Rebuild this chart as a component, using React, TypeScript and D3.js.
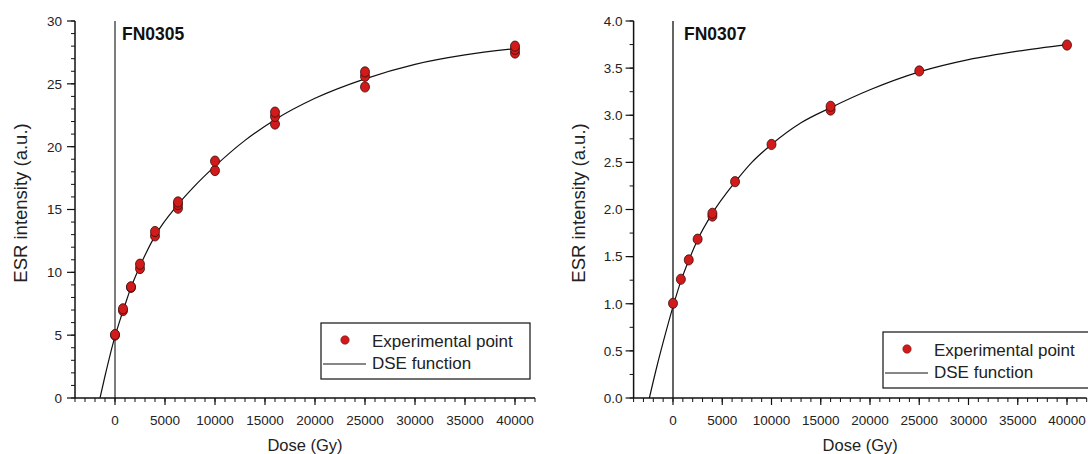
import React from "react";
import * as d3 from "d3";

// ---------- data ----------
const panelNames = ["FN0305", "FN0307"];

// FN0305 experimental points
const doses305 = [0, 0, 800, 800, 1600, 1600, 2500, 2500, 4000, 4000, 6300, 6300, 6300, 10000, 10000, 16000, 16000, 16000, 25000, 25000, 25000, 40000, 40000, 40000];
const esr305 = [5.0, 5.05, 6.95, 7.1, 8.8, 8.85, 10.3, 10.65, 12.9, 13.25, 15.1, 15.4, 15.6, 18.1, 18.85, 21.8, 22.4, 22.75, 24.75, 25.6, 25.95, 27.45, 27.75, 28.0];

// FN0305 DSE fitted curve
const curveDose305 = [-1500, -1000, -500, 0, 500, 1000, 1600, 2500, 4000, 6300, 8000, 10000, 13000, 16000, 20000, 25000, 30000, 35000, 40000];
const curveEsr305 = [0, 1.75, 3.4, 4.9, 6.2, 7.4, 8.8, 10.5, 12.9, 15.4, 16.9, 18.45, 20.5, 22.15, 23.85, 25.4, 26.55, 27.3, 27.8];

// FN0307 experimental points
const doses307 = [0, 800, 1600, 2500, 4000, 4000, 6300, 10000, 16000, 16000, 25000, 40000];
const esr307 = [1.005, 1.26, 1.465, 1.685, 1.93, 1.96, 2.295, 2.69, 3.055, 3.095, 3.47, 3.745];

// FN0307 DSE fitted curve
const curveDose307 = [-2400, -1600, -800, 0, 800, 1600, 2500, 4000, 6300, 8000, 10000, 13000, 16000, 20000, 25000, 30000, 35000, 40000];
const curveEsr307 = [0, 0.35, 0.67, 0.97, 1.24, 1.46, 1.68, 1.96, 2.29, 2.5, 2.69, 2.92, 3.08, 3.27, 3.46, 3.59, 3.68, 3.75];

// axis ticks
const xTickLabels = [0, 5000, 10000, 15000, 20000, 25000, 30000, 35000, 40000];
const xDomain = [-4000, 42000];
const yTicks305 = [0, 5, 10, 15, 20, 25, 30];
const yTicks307 = [0, 0.5, 1.0, 1.5, 2.0, 2.5, 3.0, 3.5, 4.0];
const yDomain305 = [0, 30];
const yDomain307 = [0, 4];
const legendLabels = ["Experimental point", "DSE function"];

const FONT = "'Liberation Sans', Arial, Helvetica, sans-serif";
const TXT = "#222";

type PanelProps = {
  name: string;
  xRange: [number, number];
  yDomain: number[];
  yTicks: number[];
  yMinorStep: number;
  yFormat: (v: number) => string;
  px: number[];
  py: number[];
  cx: number[];
  cy: number[];
  zeroColor: string;
  zeroWidth: number;
  titleOffset: number;
  legendX: number;
  legendY: number;
  yLabelX: number;
  tickGap: number;
};

function Panel(p: PanelProps) {
  const top = 21;
  const bottom = 398;
  const x = d3.scaleLinear().domain(xDomain).range(p.xRange);
  const y = d3.scaleLinear().domain(p.yDomain).range([bottom, top]);
  const x0 = p.xRange[0];
  const xMinor = d3.range(xDomain[0], xDomain[1] + 1, 1000);
  const yMinor = d3.range(p.yDomain[0], p.yDomain[1] + 1e-9, p.yMinorStep);
  const line = d3
    .line<number>()
    .x((_, i) => x(p.cx[i]))
    .y((d) => y(d))
    .curve(d3.curveMonotoneX);
  const clipId = "clip-" + p.name;
  return (
    <g>
      <defs>
        <clipPath id={clipId}>
          <rect x={x0} y={top - 10} width={p.xRange[1] - x0 + 10} height={bottom - top + 10} />
        </clipPath>
      </defs>
      {/* vertical line at dose 0 */}
      <line x1={x(0)} x2={x(0)} y1={top} y2={bottom} stroke={p.zeroColor} strokeWidth={p.zeroWidth} />
      {/* curve */}
      <path d={line(p.cy) || ""} fill="none" stroke="#111" strokeWidth={1.2} clipPath={`url(#${clipId})`} />
      {/* points */}
      {p.px.map((d, i) => (
        <ellipse key={i} cx={x(d)} cy={y(p.py[i])} rx={4.5} ry={5.1} fill="#d11a1a" stroke="#3a0d0d" strokeWidth={0.8} />
      ))}
      {/* y axis */}
      <line x1={x0} x2={x0} y1={top} y2={bottom} stroke="#111" strokeWidth={1.5} />
      {yMinor.map((v, i) => (
        <line key={"ym" + i} x1={x0 - 4} x2={x0} y1={y(v)} y2={y(v)} stroke="#111" strokeWidth={1} />
      ))}
      {p.yTicks.map((v, i) => (
        <g key={"yt" + i}>
          <line x1={x0 - 8} x2={x0} y1={y(v)} y2={y(v)} stroke="#111" strokeWidth={1.2} />
          <text x={x0 - p.tickGap} y={y(v)} dy="0.36em" textAnchor="end" fontFamily={FONT} fontSize={13.5} fill={TXT}>
            {p.yFormat(v)}
          </text>
        </g>
      ))}
      {/* x axis */}
      <line x1={x0} x2={p.xRange[1]} y1={bottom} y2={bottom} stroke="#111" strokeWidth={1.5} />
      {xMinor.map((v, i) => (
        <line key={"xm" + i} x1={x(v)} x2={x(v)} y1={bottom} y2={bottom + 4} stroke="#111" strokeWidth={1} />
      ))}
      {xTickLabels.map((v, i) => (
        <g key={"xt" + i}>
          <line x1={x(v)} x2={x(v)} y1={bottom} y2={bottom + 7} stroke="#111" strokeWidth={1.2} />
          <text x={x(v)} y={425} textAnchor="middle" fontFamily={FONT} fontSize={13.5} fill={TXT}>
            {String(v)}
          </text>
        </g>
      ))}
      {/* axis titles */}
      <text x={(x0 + p.xRange[1]) / 2} y={451} textAnchor="middle" fontFamily={FONT} fontSize={16.5} fill={TXT}>
        Dose (Gy)
      </text>
      <text
        transform={`translate(${p.yLabelX},203) rotate(-90)`}
        textAnchor="middle"
        fontFamily={FONT}
        fontSize={18.5}
        fill={TXT}
      >
        ESR intensity (a.u.)
      </text>
      {/* panel title */}
      <text x={x(0) + p.titleOffset} y={40} fontFamily={FONT} fontWeight="bold" fontSize={17.5} fill="#111">
        {p.name}
      </text>
      {/* legend */}
      <g transform={`translate(${p.legendX},${p.legendY})`}>
        <rect x={0} y={0} width={209} height={56} fill="#fff" stroke="#111" strokeWidth={1.2} />
        <circle cx={24} cy={17} r={4.2} fill="#d11a1a" stroke="#7a1010" strokeWidth={0.6} />
        <text x={51} y={24} fontFamily={FONT} fontSize={17} fill={TXT}>
          {legendLabels[0]}
        </text>
        <line x1={2} x2={45} y1={41} y2={41} stroke="#111" strokeWidth={1.2} />
        <text x={51} y={46} fontFamily={FONT} fontSize={17} fill={TXT}>
          {legendLabels[1]}
        </text>
      </g>
    </g>
  );
}

export default function App() {
  return (
    <svg
      width={1088}
      height={454}
      viewBox="0 0 1088 454"
      style={{ position: "absolute", left: 0, top: 0, background: "#fff" }}
    >
      <rect x={0} y={0} width={1088} height={454} fill="#fff" />
      <Panel
        name={panelNames[0]}
        xRange={[75, 535]}
        yDomain={yDomain305}
        yTicks={yTicks305}
        yMinorStep={1}
        yFormat={(v) => d3.format("d")(v)}
        px={doses305}
        py={esr305}
        cx={curveDose305}
        cy={curveEsr305}
        zeroColor="#6f6f6f"
        zeroWidth={1.8}
        titleOffset={7}
        legendX={321}
        legendY={323}
        yLabelX={27}
        tickGap={13}
      />
      <Panel
        name={panelNames[1]}
        xRange={[633.6, 1086.7]}
        yDomain={yDomain307}
        yTicks={yTicks307}
        yMinorStep={0.25}
        yFormat={(v) => d3.format(".1f")(v)}
        px={doses307}
        py={esr307}
        cx={curveDose307}
        cy={curveEsr307}
        zeroColor="#111"
        zeroWidth={1.3}
        titleOffset={11}
        legendX={883}
        legendY={332}
        yLabelX={585}
        tickGap={11}
      />
    </svg>
  );
}
